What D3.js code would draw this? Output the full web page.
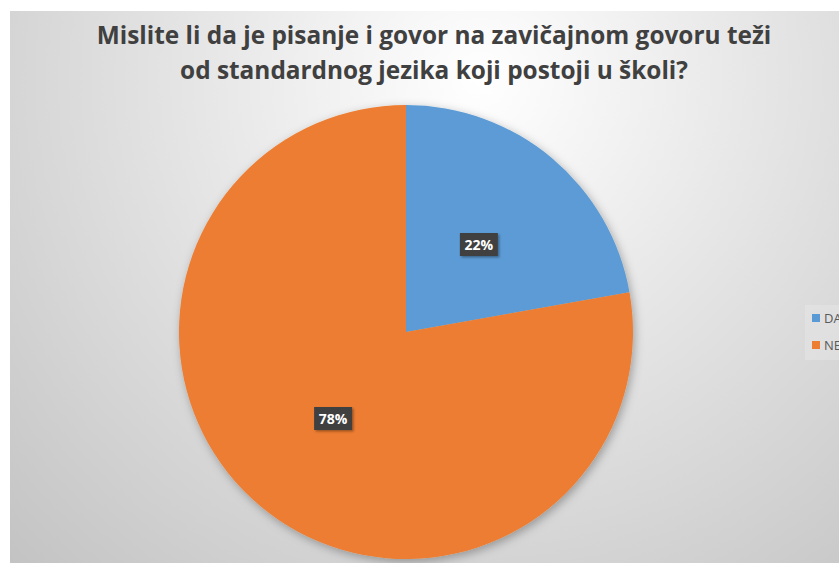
<!DOCTYPE html>
<html>
<head>
<meta charset="utf-8">
<script src="https://cdn.jsdelivr.net/npm/d3@7"></script>
<style>
  html, body { margin: 0; padding: 0; background: #ffffff; }
  svg { display: block; }
</style>
</head>
<body>
<svg id="chart" width="839" height="563"></svg>
<script>
const titleLines = ["Mislite li da je pisanje i govor na zavičajnom govoru teži",
                    "od standardnog jezika koji postoji u školi?"];
const categories = ["DA", "NE"];
const values = [22.2, 77.8];
const colors = ["#5B9BD5", "#ED7D31"];

const W = 839, H = 563;
const svg = d3.select("#chart");
const defs = svg.append("defs");

const grad = defs.append("radialGradient")
  .attr("id", "bg").attr("gradientUnits", "userSpaceOnUse")
  .attr("cx", 480).attr("cy", 80).attr("r", 720)
  .attr("fx", 480).attr("fy", 80);
grad.append("stop").attr("offset", 0).attr("stop-color", "#ffffff");
grad.append("stop").attr("offset", 1).attr("stop-color", "#bfbfbf");

const sh = defs.append("filter").attr("id", "pieShadow")
  .attr("x", "-20%").attr("y", "-20%").attr("width", "140%").attr("height", "140%");
sh.append("feDropShadow").attr("dx", 2).attr("dy", 3).attr("stdDeviation", 5)
  .attr("flood-color", "#000").attr("flood-opacity", 0.3);

const lsh = defs.append("filter").attr("id", "lblShadow")
  .attr("x", "-30%").attr("y", "-30%").attr("width", "160%").attr("height", "160%");
lsh.append("feDropShadow").attr("dx", 1.5).attr("dy", 1.5).attr("stdDeviation", 1.2)
  .attr("flood-color", "#000").attr("flood-opacity", 0.35);

// chart area background
svg.append("rect").attr("x", 10).attr("y", 11).attr("width", W - 10).attr("height", H - 11)
  .attr("fill", "url(#bg)");

// title
const titleFont = "'Open Sans', 'DejaVu Sans', sans-serif";
const title = svg.append("g").attr("fill", "#404040")
  .attr("font-family", titleFont).attr("font-weight", "bold")
  .attr("text-anchor", "middle");
const tBase = [44, 79];
const t1 = title.append("text").attr("x", 434).attr("y", tBase[0])
  .attr("font-size", 24).text(titleLines[0]);
const len = t1.node().getComputedTextLength();
const fs = 24 * 675 / len;
t1.attr("font-size", fs);
title.append("text").attr("x", 434).attr("y", tBase[1])
  .attr("font-size", fs).text(titleLines[1]);

// pie
const cx = 406, cy = 332, R = 227;
const pie = d3.pie().sort(null).value(d => d.v);
const arcs = pie(categories.map((c, i) => ({ c, v: values[i] })));
const arc = d3.arc().innerRadius(0).outerRadius(R);
const color = d3.scaleOrdinal().domain(categories).range(colors);

const g = svg.append("g").attr("transform", `translate(${cx},${cy})`);
g.append("g").attr("filter", "url(#pieShadow)")
  .selectAll("path").data(arcs).join("path")
  .attr("d", arc).attr("fill", d => color(d.data.c));

const total = d3.sum(values);
const labelArc = d3.arc().innerRadius(R / 2).outerRadius(R / 2);
const lbl = g.selectAll("g.lbl").data(arcs).join("g")
  .attr("class", "lbl")
  .attr("transform", d => `translate(${labelArc.centroid(d)})`);
lbl.append("rect").attr("x", -19).attr("y", -12).attr("width", 38).attr("height", 23)
  .attr("fill", "#404040").attr("filter", "url(#lblShadow)");
lbl.append("text").attr("text-anchor", "middle").attr("dy", "0.36em")
  .attr("fill", "#ffffff").attr("font-family", titleFont).attr("font-weight", "bold")
  .attr("font-size", 14)
  .text(d => Math.round(d.data.v / total * 100) + "%");

// legend
const lg = svg.append("g");
lg.append("rect").attr("x", 805).attr("y", 305).attr("width", 40).attr("height", 55)
  .attr("fill", "#ffffff").attr("fill-opacity", 0.18);
const li = lg.selectAll("g.li").data(categories).join("g").attr("class", "li")
  .attr("transform", (d, i) => `translate(812,${314 + i * 27})`);
li.append("rect").attr("width", 8).attr("height", 8).attr("fill", d => color(d));
li.append("text").attr("x", 12).attr("y", 9).attr("fill", "#595959")
  .attr("font-family", "'Open Sans', sans-serif").attr("font-size", 13).text(d => d);
</script>
</body>
</html>
